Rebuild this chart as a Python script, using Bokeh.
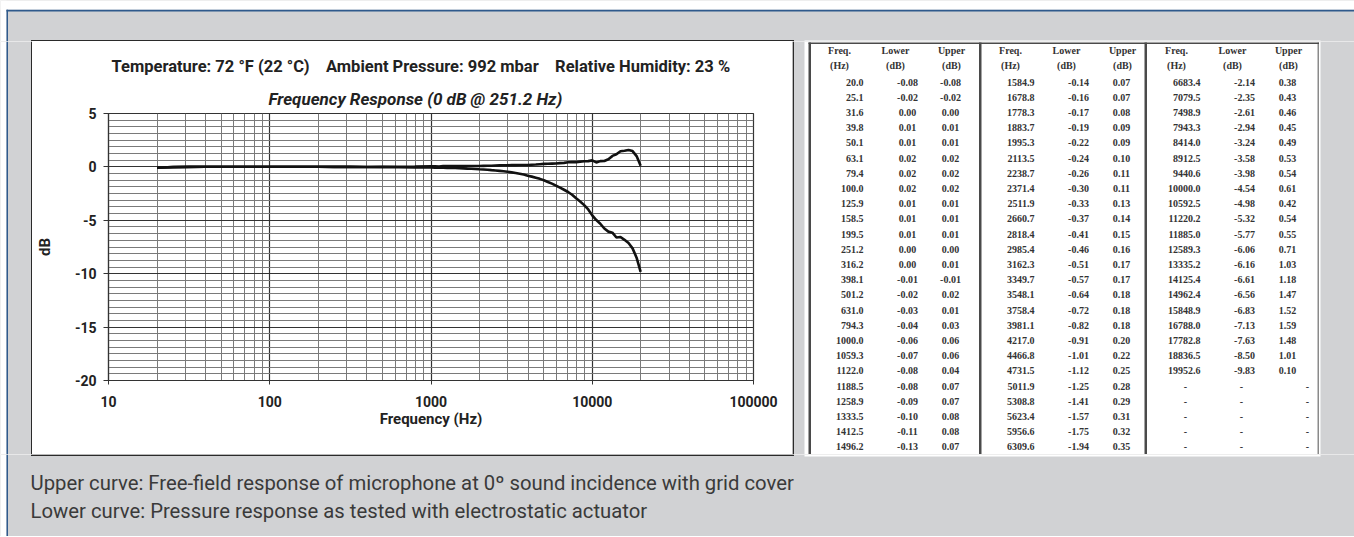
from bokeh.plotting import figure
from bokeh.layouts import row, column
from bokeh.models import FixedTicker, NumeralTickFormatter, Range1d, Title
from bokeh.core.properties import value
from bokeh.embed import file_html
from bokeh.resources import INLINE

freq = [20.0, 25.1, 31.6, 39.8, 50.1, 63.1, 79.4, 100.0, 125.9, 158.5, 199.5,
        251.2, 316.2, 398.1, 501.2, 631.0, 794.3, 1000.0, 1059.3, 1122.0, 1188.5,
        1258.9, 1333.5, 1412.5, 1496.2,
        1584.9, 1678.8, 1778.3, 1883.7, 1995.3, 2113.5, 2238.7, 2371.4, 2511.9,
        2660.7, 2818.4, 2985.4, 3162.3, 3349.7, 3548.1, 3758.4, 3981.1, 4217.0,
        4466.8, 4731.5, 5011.9, 5308.8, 5623.4, 5956.6, 6309.6,
        6683.4, 7079.5, 7498.9, 7943.3, 8414.0, 8912.5, 9440.6, 10000.0, 10592.5,
        11220.2, 11885.0, 12589.3, 13335.2, 14125.4, 14962.4, 15848.9, 16788.0,
        17782.8, 18836.5, 19952.6]
lower = [-0.08, -0.02, 0.00, 0.01, 0.01, 0.02, 0.02, 0.02, 0.01, 0.01, 0.01,
         0.00, 0.00, -0.01, -0.02, -0.03, -0.04, -0.06, -0.07, -0.08, -0.08,
         -0.09, -0.10, -0.11, -0.13,
         -0.14, -0.16, -0.17, -0.19, -0.22, -0.24, -0.26, -0.30, -0.33,
         -0.37, -0.41, -0.46, -0.51, -0.57, -0.64, -0.72, -0.82, -0.91,
         -1.01, -1.12, -1.25, -1.41, -1.57, -1.75, -1.94,
         -2.14, -2.35, -2.61, -2.94, -3.24, -3.58, -3.98, -4.54, -4.98,
         -5.32, -5.77, -6.06, -6.16, -6.61, -6.56, -6.83, -7.13,
         -7.63, -8.50, -9.83]
upper = [-0.08, -0.02, 0.00, 0.01, 0.01, 0.02, 0.02, 0.02, 0.01, 0.01, 0.01,
         0.00, 0.01, -0.01, 0.02, 0.01, 0.03, 0.06, 0.06, 0.04, 0.07,
         0.07, 0.08, 0.08, 0.07,
         0.07, 0.07, 0.08, 0.09, 0.09, 0.10, 0.11, 0.11, 0.13,
         0.14, 0.15, 0.16, 0.17, 0.17, 0.18, 0.18, 0.18, 0.20,
         0.22, 0.25, 0.28, 0.29, 0.31, 0.32, 0.35,
         0.38, 0.43, 0.46, 0.45, 0.49, 0.53, 0.54, 0.61, 0.42,
         0.54, 0.55, 0.71, 1.03, 1.18, 1.47, 1.52, 1.59,
         1.48, 1.01, 0.10]

x_ticks = [10, 100, 1000, 10000, 100000]
y_ticks = [-20, -15, -10, -5, 0, 5]

title_text = ("Temperature: 72 \u00b0F (22 \u00b0C) \u00a0\u00a0\u00a0Ambient Pressure: 992 mbar"
              " \u00a0\u00a0\u00a0Relative Humidity: 23 %")
subtitle_text = "Frequency Response (0 dB @ 251.2 Hz)"
caption1 = "Upper curve: Free-field response of microphone at 0\u00ba sound incidence with grid cover"
caption2 = "Lower curve: Pressure response as tested with electrostatic actuator"
header_top = ["Freq.", "Lower", "Upper"]
header_bot = ["(Hz)", "(dB)", "(dB)"]

# ---------------- style / layout constants ----------------
SANS = "Roboto"
SERIF = "Liberation Serif"
GRAY_BG = "#d1d2d4"
BLUE = "#2f5a8c"
DARK = "#2a2a2a"
W = 1354


def no_align(f):
    if "frame_align" in type(f).properties():
        f.frame_align = False
    return f


def pix_fig(w, h, fill=GRAY_BG):
    f = figure(width=w, height=h, x_range=Range1d(0, w), y_range=Range1d(h, 0),
               output_backend="svg", toolbar_location=None,
               x_axis_location=None, y_axis_location=None, min_border=0)
    f.xgrid.visible = False
    f.ygrid.visible = False
    f.outline_line_color = None
    f.background_fill_color = fill
    f.border_fill_color = fill
    return no_align(f)


def rect(f, l, r, t, b, color):
    f.quad(left=[l], right=[r], top=[t], bottom=[b], fill_color=color, line_color=None)


# ---- top band (page y 0..41) ----
top = pix_fig(W, 41)
rect(top, 0, W, 0, 9.3, "white")
rect(top, 0, 6, 0, 41, "white")
rect(top, 6, W, 9.3, 11, BLUE)
rect(top, 6, 7.5, 9.3, 41, BLUE)
rect(top, 804, 1320, 40, 41, "white")
rect(top, 30.5, 793.5, 39.5, 41, DARK)

# ---- left strip (page x 0..32, y 41..454) ----
left = pix_fig(32, 413)
rect(left, 0, 6, 0, 413, "white")
rect(left, 6, 7.5, 0, 413, BLUE)
rect(left, 30.5, 32, 0, 413, DARK)

# ---- chart (page x 32..792, y 41..454) ----
p = figure(width=760, height=413, x_axis_type="log",
           x_range=Range1d(10, 100000), y_range=Range1d(-20, 5),
           output_backend="svg", toolbar_location=None,
           min_border_left=73, min_border_right=39,
           min_border_top=72, min_border_bottom=74)
no_align(p)
p.border_fill_color = "white"
p.background_fill_color = "white"
p.outline_line_color = "#333333"
p.outline_line_width = 1.2

p.title.text = title_text
p.title.align = "left"
p.title.offset = 3
p.title.text_font = SANS
p.title.text_font_style = "bold"
p.title.text_font_size = "16.5px"
p.title.text_color = "#222222"
p.title.standoff = 13
sub_title = Title(text=subtitle_text, align="left", offset=160, text_font=SANS,
                  text_font_style="bold italic", text_font_size="17px",
                  text_color="#222222", standoff=9)
p.add_layout(sub_title, "above")

p.xaxis.ticker = FixedTicker(ticks=x_ticks)
p.xaxis.formatter = NumeralTickFormatter(format="0")
p.yaxis.ticker = FixedTicker(ticks=y_ticks)
p.yaxis.major_label_overrides = {t: str(t) for t in y_ticks}
for ax in (p.xaxis[0], p.yaxis[0]):
    ax.axis_line_color = "#333333"
    ax.axis_line_width = 1.2
    ax.major_tick_line_color = "#333333"
    ax.major_tick_in = 0
    ax.minor_tick_line_color = None
    ax.major_label_text_font = SANS
    ax.major_label_text_font_style = "bold"
    ax.major_label_text_font_size = "14px"
    ax.major_label_text_color = "#222222"
    ax.axis_label_text_font = SANS
    ax.axis_label_text_font_style = "bold"
    ax.axis_label_text_font_size = "15px"
    ax.axis_label_text_color = "#222222"
p.xaxis.major_tick_out = 4
p.xaxis.major_label_standoff = 11
p.xaxis.axis_label = "Frequency (Hz)"
p.xaxis.axis_label_standoff = 0
p.yaxis.major_tick_out = 5
p.yaxis.major_label_standoff = 7
p.yaxis.axis_label = "dB"
p.yaxis.axis_label_standoff = 18

x_minor = [m * 10 ** k for k in range(1, 5) for m in range(2, 10)]
y_minor = [-20 + i * 0.625 for i in range(41)]
p.xgrid.ticker = FixedTicker(ticks=x_ticks, minor_ticks=x_minor)
p.ygrid.ticker = FixedTicker(ticks=y_ticks, minor_ticks=y_minor)
for g in (p.xgrid[0], p.ygrid[0]):
    g.grid_line_color = "#333333"
    g.grid_line_width = 1.2
    g.minor_grid_line_color = "#7a7a7a"
    g.minor_grid_line_width = 1

p.line(freq, upper, line_color="#111111", line_width=2.6)
p.line(freq, lower, line_color="#111111", line_width=2.6)

# ---- right block with table (page x 792..1354, y 41..454) ----
OX, OY = 792, 41
rt = pix_fig(W - OX, 413)
rect(rt, 0, 1.5, 0, 413, DARK)
rect(rt, 804 - OX, 1320 - OX, 0, 413, "white")
for l, r, col in ((808, 810.5, "#4a4a4a"), (978.5, 981, "#4a4a4a"),
                  (1144, 1146.5, "#4a4a4a"), (1317, 1318.5, "#8a8a8a")):
    rect(rt, l - OX, r - OX, 42 - OY, 413, col)
rect(rt, 808 - OX, 1318.5 - OX, 42 - OY, 43.5 - OY, "#4a4a4a")

col_left = [808, 979, 1145]
freq_off, low_off, up_off = 55, 99, 142
hdr_off = [31, 87, 143]
row0, dy = 81.5, 15.2
groups = [(0, 25), (25, 50), (50, 70)]
fx, fy, ft, cx, cy, ct = [], [], [], [], [], []
for ci, (a, b) in enumerate(groups):
    cl = col_left[ci]
    for j, k in enumerate(range(a, b)):
        yy = row0 + j * dy - OY
        fx.append(cl + freq_off - OX); fy.append(yy); ft.append("%.1f" % freq[k])
        cx.append(cl + low_off - OX); cy.append(yy); ct.append("%.2f" % lower[k])
        cx.append(cl + up_off - OX); cy.append(yy); ct.append("%.2f" % upper[k])
    for j in range(b - a, 25):
        yy = row0 + j * dy - OY
        for off in (40, low_off - 3, 162):
            cx.append(cl + off - OX); cy.append(yy); ct.append("-")
    for h in range(3):
        cx.append(cl + hdr_off[h] - OX); cy.append(50 - OY); ct.append(header_top[h])
        cx.append(cl + hdr_off[h] - OX); cy.append(65 - OY); ct.append(header_bot[h])
rt.text(x=fx, y=fy, text=ft, text_align="right", text_baseline="middle",
        text_font=value(SERIF), text_font_style="bold", text_font_size="10px",
        text_color="#333333")
rt.text(x=cx, y=cy, text=ct, text_align="center", text_baseline="middle",
        text_font=value(SERIF), text_font_style="bold", text_font_size="10px",
        text_color="#333333")

# ---- bottom band with captions (page y 454..536) ----
bot = pix_fig(W, 82)
rect(bot, 0, 6, 0, 82, "white")
rect(bot, 6, 7.5, 0, 82, BLUE)
rect(bot, 804, 1320, 0, 2, "white")
rect(bot, 30.5, 793.5, 0, 1.5, DARK)
bot.text(x=[30, 30], y=[28, 56], text=[caption1, caption2], text_align="left",
         text_baseline="middle", text_font=value(SANS), text_font_size="20.3px",
         text_color="#3a3a3a")

layout = column(top, row(column(left), column(p), column(rt)), bot)
open("out.html", "w").write(file_html(layout, INLINE))
